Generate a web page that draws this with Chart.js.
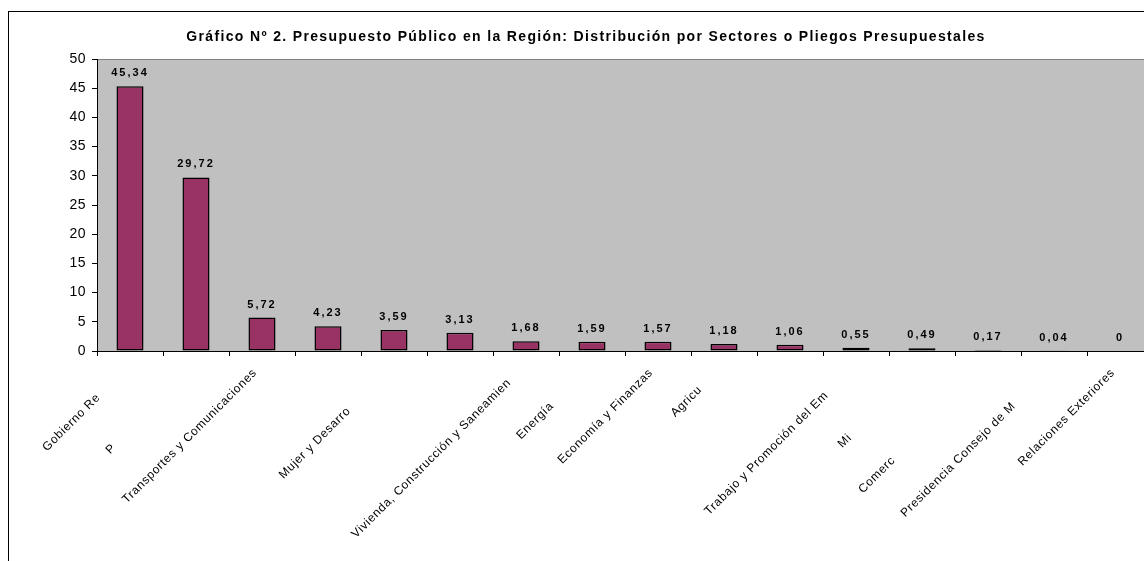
<!DOCTYPE html>
<html lang="es">
<head>
  <meta charset="UTF-8" />
  <title>Gráfico Nº 2. Presupuesto Público en la Región</title>
  <script src="https://cdn.jsdelivr.net/npm/chart.js@4.4.0/dist/chart.umd.min.js"></script>
  <style>
    html, body { margin: 0; padding: 0; background: #fff; overflow: hidden; }
    #chart { display: block; }
  </style>
</head>
<body>
  <canvas id="chart" width="1172" height="561"></canvas>

  <script>
    // --- data ------------------------------------------------------
    const chartTitle = 'Gráfico Nº 2. Presupuesto Público en la Región: Distribución por Sectores o Pliegos Presupuestales';

    // sector labels as they show up (clipped) under the axis
    const sectors = [
      'Gobierno Re', 'P', 'Transportes y Comunicaciones', '', 'Mujer y Desarro', '',
      'Vivienda, Construcción y Saneamien', 'Energía', 'Economía y Finanzas', 'Agricu', '',
      'Trabajo y Promoción del Em', 'Mi', 'Comerc', 'Presidencia Consejo de M', 'Relaciones Exteriores'
    ];
    const shares = [45.34, 29.72, 5.72, 4.23, 3.59, 3.13, 1.68, 1.59, 1.57, 1.18, 1.06, 0.55, 0.49, 0.17, 0.04, 0];

    const yMin = 0;
    const yMax = 50;
    const yStep = 5;

    // --- look ------------------------------------------------------
    const FONT = 'Arial, "Liberation Sans", sans-serif';
    // how far each sector label slides down its 45° line (px), like in the sheet
    const labelDrop = [35, 106, 0, 0, 54, 0, 14, 47, 0, 24, 0, 32, 92, 124, 47, 0];

    // background, outer frame, grey plot area and title
    const frame = {
      id: 'frame',
      beforeDraw(chart) {
        const { ctx, chartArea: a } = chart;
        ctx.save();
        ctx.fillStyle = '#fff';
        ctx.fillRect(0, 0, chart.width, chart.height);
        ctx.strokeStyle = '#000';
        ctx.lineWidth = 1;
        ctx.strokeRect(8.5, 11.5, chart.width, chart.height);

        ctx.fillStyle = '#c0c0c0';
        ctx.fillRect(a.left, a.top, a.right - a.left, a.bottom - a.top);
        ctx.strokeStyle = '#808080';
        ctx.strokeRect(a.left + 0.5, a.top + 0.5, a.right - a.left, a.bottom - a.top);

        ctx.fillStyle = '#000';
        ctx.font = 'bold 14px ' + FONT;
        ctx.letterSpacing = '1.35px';
        ctx.textAlign = 'center';
        ctx.textBaseline = 'middle';
        ctx.fillText(chartTitle, chart.width / 2, 37);
        ctx.restore();
        ctx.letterSpacing = '0.5px';
      }
    };

    // numbers above the bars, with comma decimals
    const valueLabels = {
      id: 'valueLabels',
      afterDatasetsDraw(chart) {
        const { ctx } = chart;
        const bars = chart.getDatasetMeta(0).data;
        ctx.save();
        ctx.font = 'bold 11px ' + FONT;
        ctx.letterSpacing = '2px';
        ctx.fillStyle = '#000';
        ctx.textAlign = 'center';
        ctx.textBaseline = 'alphabetic';
        bars.forEach((bar, i) => {
          ctx.fillText(String(shares[i]).replace('.', ','), bar.x, bar.y - 10);
        });
        ctx.restore();
      }
    };

    // rotated sector names
    const sectorLabels = {
      id: 'sectorLabels',
      afterDraw(chart) {
        const { ctx } = chart;
        const x = chart.scales.x;
        ctx.save();
        ctx.font = '12px ' + FONT;
        ctx.letterSpacing = '0.7px';
        ctx.fillStyle = '#000';
        ctx.textAlign = 'right';
        ctx.textBaseline = 'middle';
        sectors.forEach((name, i) => {
          const d = labelDrop[i] / Math.SQRT2;
          ctx.save();
          ctx.translate(x.getPixelForValue(i) - 7 - d, x.top + 20 + d);
          ctx.rotate(-Math.PI / 4);
          ctx.fillText(name, 0, 0);
          ctx.restore();
        });
        ctx.restore();
      }
    };

    new Chart(document.getElementById('chart'), {
      type: 'bar',
      data: {
        labels: sectors,
        datasets: [{
          data: shares,
          backgroundColor: '#993366',
          borderColor: '#000',
          borderWidth: 1.5,
          borderSkipped: false,
          categoryPercentage: 1,
          barPercentage: 0.41
        }]
      },
      options: {
        responsive: false,
        animation: false,
        layout: { padding: { top: 59, right: 19, bottom: 0, left: 0 } },
        plugins: {
          legend: { display: false },
          title: { display: false },
          tooltip: { enabled: false }
        },
        scales: {
          x: {
            grid: { offset: true, drawOnChartArea: false, color: '#000', tickLength: 5 },
            border: { color: '#000' },
            ticks: { display: false },
            afterFit: s => { s.height = 210; }
          },
          y: {
            min: yMin,
            max: yMax,
            ticks: { stepSize: yStep, color: '#000', padding: 6, font: { family: FONT, size: 14 } },
            grid: { drawOnChartArea: false, color: '#000', tickLength: 5 },
            border: { color: '#000' },
            afterFit: s => { s.width = 97; }
          }
        }
      },
      plugins: [frame, valueLabels, sectorLabels]
    });
  </script>
</body>
</html>
